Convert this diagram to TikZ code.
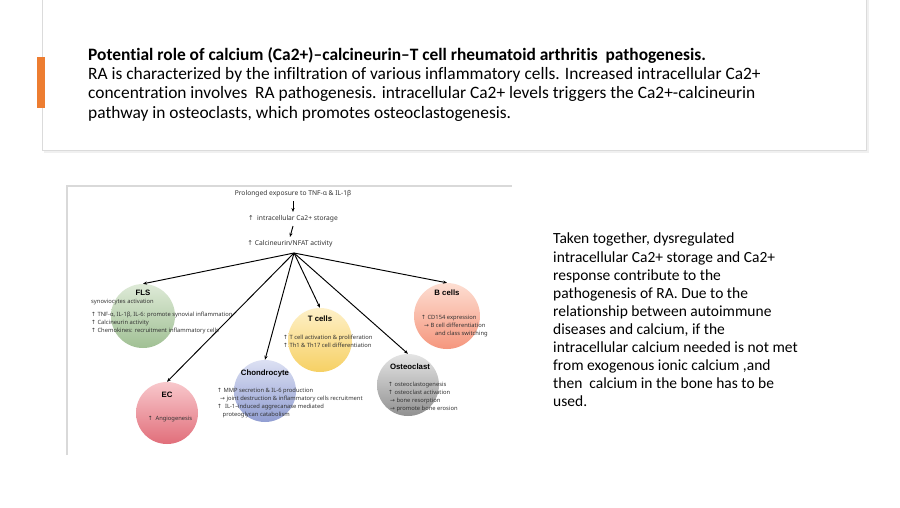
\documentclass[tikz,border=0pt]{standalone}
\usepackage{fontspec}
\setmainfont{Carlito}[Ligatures=NoCommon]
\newfontfamily\diagfont{Noto Sans}
\newfontfamily\ttlfont{Liberation Sans}
\newfontfamily\symfont{DejaVu Sans}
\usetikzlibrary{arrows.meta}
\newcommand{\upa}{{\symfont ↑}}
\newcommand{\rta}{{\symfont →}}
\definecolor{office}{HTML}{ED7D31}
\definecolor{dtext}{HTML}{333333}
\tikzset{
  arr/.style={-{Stealth[length=4pt,width=3.2pt]}, line width=0.95pt, black},
  hdr/.style={font=\diagfont\fontsize{6.7}{8}\selectfont, text=dtext, inner sep=1.5pt},
  ttl/.style={font=\ttlfont\bfseries\fontsize{7.8}{9}\selectfont, text=black, inner sep=0pt},
  body/.style={font=\diagfont\fontsize{5.8}{7.9}\selectfont, text=dtext, inner sep=0pt, align=left, anchor=north west},
  cell/.style={circle, inner sep=0pt, minimum size=#1},
}
\begin{document}
\begin{tikzpicture}[x=1pt,y=-1pt]
\useasboundingbox[fill=white] (0,0) rectangle (900,507);
% top card
\fill[black!6] (44,-5) rectangle (869,153);
\fill[white] (42,-5) rectangle (866,150);
\draw[black!14, line width=0.6pt] (42,-5) -- (42,150) -- (866,150) -- (866,-5);
\fill[office] (37,57) rectangle (45,108);
\node[anchor=north west, align=left, inner sep=0pt, font=\fontsize{17.4}{19.4}\selectfont] (desc) at (88,47)
 {\textbf{Potential role of calcium (Ca2+)–calcineurin–T cell rheumatoid arthritis\ \ pathogenesis.}\\
  RA is characterized by the infiltration of various inflammatory cells. Increased intracellular Ca2+\\
  concentration involves\ \ RA pathogenesis. intracellular Ca2+ levels triggers the Ca2+-calcineurin\\
  pathway in osteoclasts, which promotes osteoclastogenesis.};
% right paragraph
\node[anchor=north west, align=left, inner sep=0pt, font=\fontsize{15.5}{18.1}\selectfont] (summary) at (553,233)
 {Taken together, dysregulated\\
  intracellular Ca2+ storage and Ca2+\\
  response contribute to the\\
  pathogenesis of RA. Due to the\\
  relationship between autoimmune\\
  diseases and calcium, if the\\
  intracellular calcium needed is not met\\
  from exogenous ionic calcium ,and\\
  then\ \ calcium in the bone has to be\\
  used.};
% figure frame
\draw[black!15, line width=1.5pt] (67,455) -- (67,186) -- (512,186);
% header chain
\node[hdr] (expo) at (293,194) {Prolonged exposure to TNF-α \& IL-1β};
\node[hdr] (store) at (293,219) {\upa\ \ intracellular Ca2+ storage};
\node[hdr] (calc) at (290,244) {\upa\ Calcineurin/NFAT activity};
\draw[arr] ([yshift=-2pt]expo.south) -- ([yshift=2pt]store.north);
\draw[arr] ([yshift=-2pt]store.south) -- ([yshift=2pt]calc.north);
\coordinate (hub) at (294,253);
% circles
\node[cell=64pt, top color={rgb,255:red,222;green,234;blue,215}, bottom color={rgb,255:red,160;green,192;blue,148}] (fls) at (143,316) {};
\node[cell=62pt, top color={rgb,255:red,248;green,200;blue,204}, bottom color={rgb,255:red,225;green,110;blue,122}] (ec) at (167,413) {};
\node[cell=62pt, top color={rgb,255:red,220;green,224;blue,243}, bottom color={rgb,255:red,145;green,158;blue,210}] (chon) at (265,391) {};
\node[cell=64pt, top color={rgb,255:red,254;green,240;blue,200}, bottom color={rgb,255:red,246;green,208;blue,100}] (tc) at (320,340) {};
\node[cell=62pt, top color={rgb,255:red,228;green,228;blue,228}, bottom color={rgb,255:red,145;green,145;blue,145}] (ost) at (408,385) {};
\node[cell=66pt, top color={rgb,255:red,253;green,222;blue,210}, bottom color={rgb,255:red,245;green,150;blue,125}] (bc) at (447,316) {};
% connectors
\draw[arr] (hub) -- (fls.north);
\draw[arr] (hub) -- (ec.north);
\draw[arr] (hub) -- (chon.north);
\draw[arr] (hub) -- (tc.north);
\draw[arr] (hub) -- (ost.north);
\draw[arr] (hub) -- (bc.north);
% FLS
\node[ttl] (flsT) at (143,293) {FLS};
\node[body] (flsB) at (91,299) {synoviocytes activation\\[5pt]
 \upa\ TNF-α, IL-1β, IL-6: promote synovial inflammation\\
 \upa\ Calcineurin activity\\
 \upa\ Chemokines: recruitment inflammatory cells};
% EC
\node[ttl] (ecT) at (167,395) {EC};
\node[hdr, font=\diagfont\fontsize{5.8}{7}\selectfont] (ecB) at (170,419) {\upa\ \ Angiogenesis};
% Chondrocyte
\node[ttl] (chonT) at (265,373) {Chondrocyte};
\node[body] (chonB) at (217,388) {\upa\ MMP secretion \& IL-6 production\\
 \hspace*{3pt}\rta\ joint destruction \& inflammatory cells recruitment\\
 \upa\ \ IL-1–induced aggrecanase mediated\\
 \hspace*{5.5pt}proteoglycan catabolism};
% T cells
\node[ttl] (tcT) at (320,319) {T cells};
\node[body] (tcB) at (283,335) {\upa\ T cell activation \& proliferation\\
 \upa\ Th1 \& Th17 cell differentiation};
% Osteoclast
\node[ttl] (ostT) at (410,367) {Osteoclast};
\node[body] (ostB) at (388,382) {\upa\ osteoclastogenesis\\
 \upa\ osteoclast activation\\
 \hspace*{2pt}\rta\ bone resorption\\
 \hspace*{2pt}\rta\ promote bone erosion};
% B cells
\node[ttl] (bcT) at (447,293) {B cells};
\node[body] (bcB) at (421,315) {\upa\ CD154 expression\\
 \hspace*{3pt}\rta\ B cell differentiation\\
 \hspace*{14pt}and class switching};
\end{tikzpicture}
\end{document}
